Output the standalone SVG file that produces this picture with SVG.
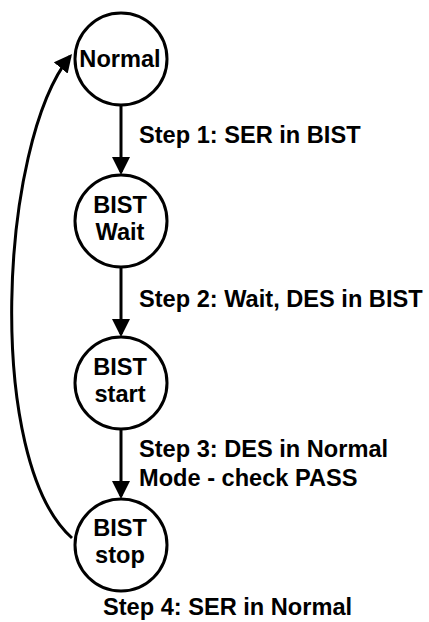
<svg xmlns="http://www.w3.org/2000/svg" width="429" height="622" viewBox="0 0 429 622">
  <style>
    .node circle { fill: #ffffff; stroke: #000000; stroke-width: 3; }
    .node text { font-family: "Liberation Sans", Arial, sans-serif; font-weight: bold; font-size: 23.6px; fill: #000000; text-anchor: middle; }
    .edge { fill: none; stroke: #000000; stroke-width: 3; marker-end: url(#arrow); }
    .label { font-family: "Liberation Sans", Arial, sans-serif; font-weight: bold; font-size: 23.6px; fill: #000000; }
  </style>
  <defs>
    <marker id="arrow" markerUnits="userSpaceOnUse" markerWidth="18" markerHeight="18" refX="15" refY="9" orient="auto">
      <path d="M0,0 L18,9 L0,18 Z" fill="#000000"/>
    </marker>
  </defs>
  <rect width="429" height="622" fill="#ffffff"/>

  <g id="connectors">
    <line class="edge" x1="121" y1="105" x2="121" y2="172"/>
    <line class="edge" x1="121" y1="267" x2="121" y2="334"/>
    <line class="edge" x1="121" y1="429" x2="121" y2="496"/>
    <path class="edge" d="M72,538 C-15,461 -1,144 70.1,56.3"/>
  </g>

  <g id="node-normal" class="node">
    <circle cx="121" cy="59" r="46"/>
    <text x="120" y="67">Normal</text>
  </g>
  <g id="node-bist-wait" class="node">
    <circle cx="121" cy="221" r="46"/>
    <text x="120" y="213">BIST</text>
    <text x="120" y="240">Wait</text>
  </g>
  <g id="node-bist-start" class="node">
    <circle cx="121" cy="383" r="46"/>
    <text x="120" y="375">BIST</text>
    <text x="120" y="402">start</text>
  </g>
  <g id="node-bist-stop" class="node">
    <circle cx="121" cy="545" r="46"/>
    <text x="120" y="536">BIST</text>
    <text x="120" y="563">stop</text>
  </g>

  <g id="labels">
    <text class="label" x="139" y="142.5">Step 1: SER in BIST</text>
    <text class="label" x="139" y="307">Step 2: Wait, DES in BIST</text>
    <text class="label" x="139" y="457">Step 3: DES in Normal</text>
    <text class="label" x="139" y="486">Mode - check PASS</text>
    <text class="label" x="103" y="615">Step 4: SER in Normal</text>
  </g>
</svg>
